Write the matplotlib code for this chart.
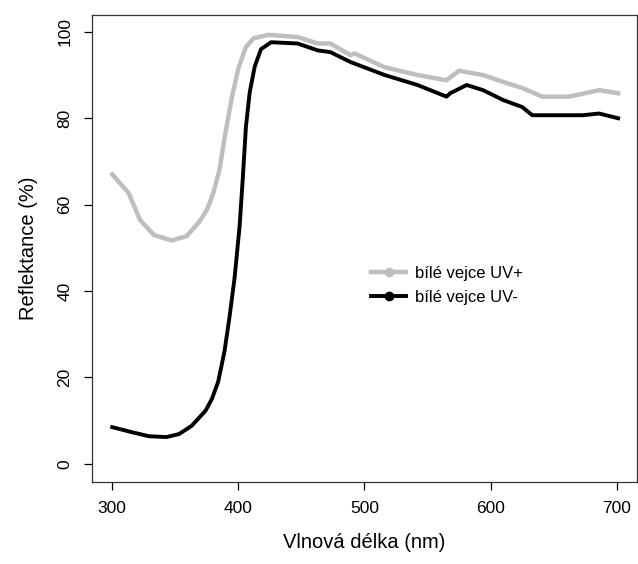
import numpy as np
import matplotlib
matplotlib.use("Agg")
import matplotlib.pyplot as plt

# hodnoty
wl_uvplus = [300, 313, 322, 333, 347, 359, 369, 375, 380, 385, 390, 395, 400, 406, 412, 424,
             447, 463, 473, 489, 492, 516, 542, 565, 575, 594, 610, 625, 641, 662, 686, 701]
refl_uvplus = [67.0, 62.7, 56.5, 53.0, 51.7, 52.7, 56.0, 58.8, 62.5, 68.0, 77.0, 85.0, 91.5, 96.5, 98.5, 99.3,
               98.8, 97.3, 97.3, 94.6, 95.0, 91.8, 90.0, 88.8, 91.0, 90.0, 88.4, 87.0, 85.0, 85.0, 86.5, 85.8]

wl_uvminus = [300, 316, 329, 343, 353, 363, 374, 379, 384, 389, 393, 397, 401, 403.5, 406, 409, 413, 418,
              426, 447, 463, 473, 489, 516, 542, 565, 568, 581, 594, 610, 625, 633, 646, 673, 686, 701]
refl_uvminus = [8.5, 7.3, 6.4, 6.2, 6.9, 8.8, 12.3, 15.0, 19.0, 26.0, 34.0, 43.0, 55.0, 66.0, 78.0, 86.0, 92.0, 96.0,
                97.6, 97.3, 95.7, 95.3, 93.0, 90.0, 87.7, 85.0, 85.8, 87.7, 86.5, 84.2, 82.6, 80.7, 80.7, 80.7, 81.1, 80.0]

labels = ["bílé vejce UV+", "bílé vejce UV-"]
xticks = [300, 400, 500, 600, 700]
yticks = [0, 20, 40, 60, 80, 100]

plt.rcParams['font.family'] = ['Liberation Sans', 'DejaVu Sans']

fig = plt.figure(figsize=(6.38, 5.64), dpi=100)
ax = fig.add_axes([92 / 638, 1 - 482 / 564, 545 / 638, 467 / 564])

ax.plot(wl_uvplus, refl_uvplus, color='#bebebe', lw=3.2, solid_joinstyle='round')
ax.plot(wl_uvminus, refl_uvminus, color='black', lw=2.8, solid_joinstyle='round')

ax.set_xlim(284, 716)
ax.set_ylim(-4.2, 103.9)
ax.set_xticks(xticks)
ax.set_yticks(yticks)
ax.tick_params(direction='out', length=6, width=0.9, labelsize=12.5, pad=8)
for lab in ax.get_yticklabels():
    lab.set_rotation(90)
    lab.set_va('center')
for s in ax.spines.values():
    s.set_linewidth(0.9)
    s.set_color('#333333')

ax.set_xlabel('Vlnová délka (nm)', fontsize=14.5, labelpad=12)
ax.set_ylabel('Reflektance (%)', fontsize=14.5, labelpad=14)

# legenda bez rámu, se symbolem bodu uprostřed čáry
h1 = plt.Line2D([], [], color='#bebebe', lw=3.2, marker='o', markersize=6)
h2 = plt.Line2D([], [], color='black', lw=2.8, marker='o', markersize=6)
ax.legend([h1, h2], labels, loc='upper left', bbox_to_anchor=(0.485, 0.495),
          frameon=False, fontsize=12, handlelength=2.1, handletextpad=0.55,
          labelspacing=0.55)

fig.savefig('out.png', dpi=100)
